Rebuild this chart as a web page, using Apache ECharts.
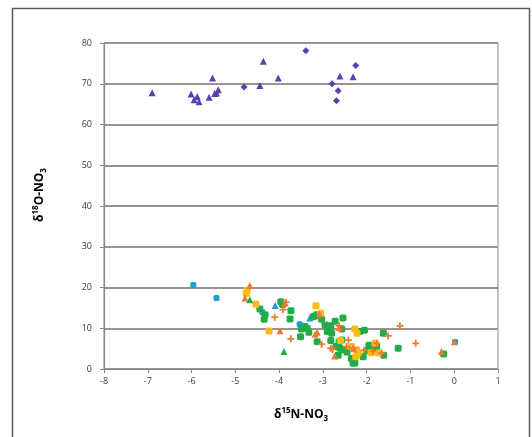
<!DOCTYPE html>
<html>
<head>
<meta charset="utf-8">
<script src="https://cdn.jsdelivr.net/npm/echarts@6/dist/echarts.min.js"></script>
<style>
  html, body { margin: 0; padding: 0; background: #fff; }
  #chart { width: 532px; height: 437px; }
</style>
</head>
<body>
<div id="chart"></div>
<script>
// Isotope pairs [δ15N-NO3, δ18O-NO3] by marker group
const purpleTriangles = [
  [-6.90, 67.8], [-6.01, 67.5], [-5.94, 66.1], [-5.87, 66.9], [-5.83, 65.6],
  [-5.60, 66.7], [-5.52, 71.4], [-5.43, 67.7], [-5.39, 68.5], [-5.47, 67.6],
  [-4.44, 69.6], [-4.36, 75.5], [-4.02, 71.4], [-2.61, 71.9], [-2.31, 71.7]
];
const purpleDiamonds = [
  [-4.80, 69.2], [-3.39, 78.1], [-2.79, 70.0], [-2.65, 68.3], [-2.69, 65.8], [-2.25, 74.5]
];
const blueSquares = [
  [-5.96, 20.6], [-5.43, 17.4], [-4.38, 13.9], [-3.53, 11.0], [0.02, 6.6]
];
const blueTriangles = [
  [-4.09, 15.6], [-3.30, 12.5]
];
const orangeTriangles = [
  [-4.67, 20.5], [-4.78, 17.4], [-3.98, 9.4], [-3.86, 16.2], [-3.08, 13.5],
  [-3.13, 9.0], [-3.18, 8.5], [-2.63, 10.2], [-2.73, 3.2], [-2.30, 5.0],
  [-0.29, 4.3], [0.0, 6.7]
];
const orangeCrosses = [
  [-4.10, 12.7], [-3.91, 14.6], [-3.84, 16.4], [-3.73, 7.4], [-3.03, 6.1],
  [-2.82, 5.1], [-2.78, 4.8], [-2.63, 10.6], [-2.42, 7.1], [-2.46, 5.5],
  [-2.31, 5.1], [-2.05, 4.6], [-1.85, 4.3], [-1.77, 6.3], [-1.66, 3.9],
  [-1.51, 8.1], [-1.24, 10.6], [-0.88, 6.3]
];
const yellowSquares = [
  [-4.73, 19.3], [-4.75, 18.5], [-4.53, 15.9], [-4.23, 9.3], [-3.16, 15.5],
  [-3.05, 13.7], [-2.60, 7.0], [-2.27, 9.8], [-2.22, 8.8], [-2.35, 5.5],
  [-2.23, 4.7], [-2.19, 3.9], [-2.25, 3.0], [-1.90, 4.0], [-1.81, 6.3], [-1.74, 3.9]
];
const greenSquares = [
  [-4.44, 14.7], [-4.34, 12.2], [-4.32, 13.3], [-3.96, 16.5], [-3.92, 15.8],
  [-3.73, 14.3], [-3.75, 12.3], [-3.51, 7.9], [-3.49, 9.8], [-3.41, 10.4],
  [-3.36, 10.0], [-3.32, 9.0], [-3.22, 12.8], [-3.18, 13.0], [-3.14, 13.3],
  [-3.13, 6.7], [-3.03, 12.2], [-2.95, 10.8], [-2.90, 9.2], [-2.82, 10.6],
  [-2.82, 7.0], [-2.80, 8.8], [-2.72, 11.7], [-2.70, 5.5], [-2.65, 3.4],
  [-2.63, 6.7], [-2.61, 5.1], [-2.57, 9.8], [-2.57, 7.1], [-2.54, 12.5],
  [-2.54, 4.7], [-2.45, 4.2], [-2.35, 2.6], [-2.31, 1.4], [-2.27, 1.5],
  [-2.16, 9.2], [-2.08, 3.0], [-2.05, 9.5], [-2.00, 4.5], [-1.95, 5.8],
  [-1.89, 4.8], [-1.77, 5.5], [-1.62, 8.8], [-1.61, 3.4], [-1.28, 5.1], [-0.24, 3.7]
];
const greenTriangles = [
  [-4.67, 17.0], [-3.89, 4.3]
];

const xTicks = { min: -8, max: 1, step: 1 };
const yTicks = { min: 0, max: 80, step: 10 };

const PURPLE = '#5e3fae';
const BLUE = '#1a9fdc';
const ORANGE = '#ee7a30';
const YELLOW = '#fdbb18';
const GREEN = '#23ac48';
const CROSS = 'path://M3,0h2v3h3v2h-3v3h-2v-3h-3v-2h3z';

function scatter(name, data, symbol, size, color, extra) {
  return Object.assign({
    name, type: 'scatter', data, symbol, symbolSize: size,
    itemStyle: { color, opacity: 1 },
    emphasis: { disabled: true },
    z: 3
  }, extra || {});
}

const chart = echarts.init(document.getElementById('chart'), null, { renderer: 'canvas' });

const labelFont = { fontFamily: 'Open Sans', fontSize: 9, color: '#3a3a3a' };
const AXIS_GRAY = '#8d8682';

chart.setOption({
  animation: false,
  backgroundColor: '#fff',
  grid: { left: 104, right: 34, top: 43, bottom: 68, show: true, borderColor: AXIS_GRAY, borderWidth: 1 },
  xAxis: {
    type: 'value', min: xTicks.min, max: xTicks.max, interval: xTicks.step,
    axisLine: { show: true, onZero: false, lineStyle: { color: AXIS_GRAY, width: 1.2 } },
    axisTick: { show: true, length: 4, lineStyle: { color: AXIS_GRAY } },
    axisLabel: Object.assign({ margin: 8 }, labelFont),
    splitLine: { show: false }
  },
  yAxis: {
    type: 'value', min: yTicks.min, max: yTicks.max, interval: yTicks.step,
    axisLine: { show: true, onZero: false, lineStyle: { color: AXIS_GRAY, width: 1.2 } },
    axisTick: { show: true, length: 4, lineStyle: { color: AXIS_GRAY } },
    axisLabel: Object.assign({ margin: 12 }, labelFont),
    splitLine: { show: true, lineStyle: { color: '#9a928e', width: 1.8 } }
  },
  graphic: [
    {
      type: 'rect', silent: true, z: -1,
      shape: { x: 12.5, y: 8.5, width: 517, height: 440 },
      style: { fill: 'none', stroke: '#5a5a5a', lineWidth: 1.5 }
    },
    {
      type: 'text', silent: true,
      x: 301, y: 415,
      style: {
        text: '{m|δ}{sup|15}{m|N-NO}{sub|3}',
        align: 'center', verticalAlign: 'middle',
        rich: {
          m: { fontFamily: 'Open Sans', fontWeight: 'bold', fontSize: 12, color: '#222', lineHeight: 16, verticalAlign: 'middle' },
          sup: { fontFamily: 'Open Sans', fontWeight: 'bold', fontSize: 8, color: '#222', lineHeight: 16, verticalAlign: 'top' },
          sub: { fontFamily: 'Open Sans', fontWeight: 'bold', fontSize: 8, color: '#222', lineHeight: 16, verticalAlign: 'bottom' }
        }
      }
    },
    {
      type: 'text', silent: true,
      x: 40, y: 195, rotation: Math.PI / 2,
      style: {
        text: '{m|δ}{sup|18}{m|O-NO}{sub|3}',
        align: 'center', verticalAlign: 'middle',
        rich: {
          m: { fontFamily: 'Open Sans', fontWeight: 'bold', fontSize: 12, color: '#222', lineHeight: 16, verticalAlign: 'middle' },
          sup: { fontFamily: 'Open Sans', fontWeight: 'bold', fontSize: 8, color: '#222', lineHeight: 16, verticalAlign: 'top' },
          sub: { fontFamily: 'Open Sans', fontWeight: 'bold', fontSize: 8, color: '#222', lineHeight: 16, verticalAlign: 'bottom' }
        }
      }
    }
  ],
  series: [
    scatter('purple-tri', purpleTriangles, 'triangle', 7, PURPLE),
    scatter('purple-dia', purpleDiamonds, 'diamond', 7, PURPLE),
    scatter('blue-sq', blueSquares, 'roundRect', 6, BLUE),
    scatter('blue-tri', blueTriangles, 'triangle', 7, BLUE),
    scatter('green-sq', greenSquares, 'roundRect', 7, GREEN),
    scatter('yellow-sq', yellowSquares, 'roundRect', 7, YELLOW),
    scatter('orange-cross', orangeCrosses, CROSS, 7, ORANGE),
    scatter('orange-tri', orangeTriangles, 'triangle', 7, ORANGE),
    scatter('green-tri', greenTriangles, 'triangle', 7, GREEN)
  ]
});
</script>
</body>
</html>
